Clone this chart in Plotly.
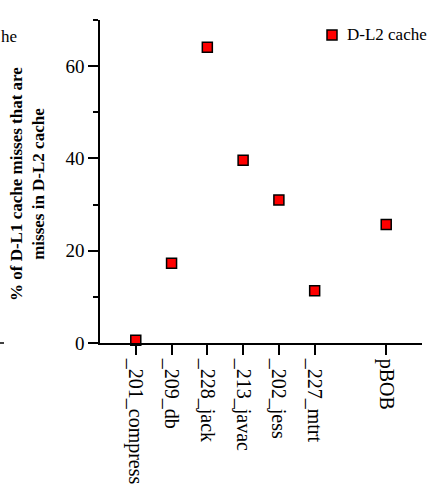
import plotly.graph_objects as go

# Benchmarks and their slot on the category axis (slot 6 left empty before pBOB)
benchmarks = ["_201_compress", "_209_db", "_228_jack", "_213_javac", "_202_jess", "_227_mtrt", "pBOB"]
slots = [0, 1, 2, 3, 4, 5, 7]
# % of D-L1 cache misses that also miss in D-L2
dl2_miss_pct = [0.6, 17.3, 64.1, 39.6, 31.0, 11.3, 25.7]
series_name = "D-L2 cache"

FONT = "Liberation Serif, Times New Roman, serif"
W, H = 430, 484
ML, MR, MT, MB = 100, 8, 20, 141

fig = go.Figure()
fig.add_trace(go.Scatter(
    x=slots, y=dl2_miss_pct, mode="markers", name=series_name, showlegend=False,
    marker=dict(symbol="square", size=10, color="#ff0000",
                line=dict(color="black", width=1.5)),
    cliponaxis=False,
))

pw = W - ML - MR
ph = H - MT - MB

def px(xp):
    return (xp - ML) / pw

def py(yp):
    return 1 - (yp - MT) / ph

# legend swatch + label
fig.add_shape(type="rect", xref="paper", yref="paper",
              x0=px(327), x1=px(337), y0=py(40), y1=py(30),
              fillcolor="#ff0000", line=dict(color="black", width=1.5))
fig.add_annotation(text=series_name, xref="paper", yref="paper",
                   x=px(345), y=py(35), xanchor="left", yanchor="middle",
                   showarrow=False, font=dict(family=FONT, size=17, color="black"))

# tail of the neighbouring panel's legend text and its axis end at the left edge
fig.add_annotation(text="he", xref="paper", yref="paper",
                   x=px(-1), y=py(37), xanchor="left", yanchor="middle",
                   showarrow=False, font=dict(family=FONT, size=17, color="black"))
fig.add_shape(type="line", xref="paper", yref="paper",
              x0=px(0), x1=px(4), y0=py(343), y1=py(343),
              line=dict(color="black", width=1.5))

# y-axis title
fig.add_annotation(text="<b>% of D-L1 cache misses that are<br>misses in D-L2 cache</b>",
                   xref="paper", yref="paper", x=px(27), y=py(184),
                   xanchor="center", yanchor="middle", textangle=-90,
                   showarrow=False, font=dict(family=FONT, size=17, color="black"))

fig.update_layout(
    width=W, height=H,
    margin=dict(l=ML, r=MR, t=MT, b=MB, autoexpand=False),
    paper_bgcolor="white", plot_bgcolor="white",
    font=dict(family=FONT, size=18, color="black"),
    xaxis=dict(
        range=[-1, 8], tickmode="array", tickvals=slots, ticktext=benchmarks,
        tickangle=90, ticks="outside", ticklen=10, tickwidth=1.5, tickcolor="black",
        showline=True, linecolor="black", linewidth=1.5, showgrid=False, zeroline=False,
        tickfont=dict(family=FONT, size=20), automargin=False,
    ),
    yaxis=dict(
        range=[0, 70], tick0=0, dtick=20, ticks="outside", ticklen=10,
        tickwidth=1.5, tickcolor="black",
        minor=dict(dtick=10, ticks="outside", ticklen=5, tickwidth=1.5, tickcolor="black"),
        showline=True, linecolor="black", linewidth=1.5, showgrid=False, zeroline=False,
        tickfont=dict(family=FONT, size=19), automargin=False,
    ),
)

fig.write_html("out.html")
